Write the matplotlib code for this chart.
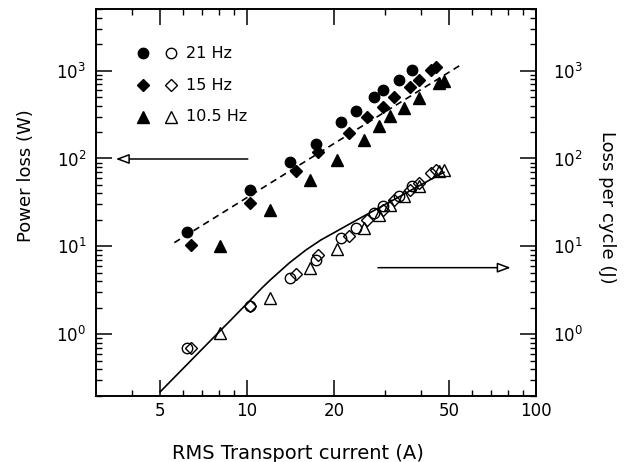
import matplotlib
matplotlib.use("Agg")
import matplotlib.pyplot as plt
from matplotlib.ticker import FixedLocator, NullFormatter, FixedFormatter, LogLocator

# ---- data ----
# RMS transport current (A)
i21 = [6.18, 10.27, 14.04, 17.33, 21.17, 23.8, 27.5, 29.5, 33.6, 37.3]
i15 = [6.38, 10.27, 14.76, 17.58, 22.5, 26.0, 29.6, 32.3, 36.6, 39.4, 43.4, 45.1]
i105 = [8.05, 11.98, 16.5, 20.4, 25.4, 28.7, 31.2, 35.0, 39.4, 46.2, 48.1]

# Power loss (W) - filled symbols, left axis
p21 = [14.7, 44.0, 91.7, 147, 262, 343, 499, 607, 789, 1008]
p15 = [10.3, 31.5, 71.8, 120, 197, 299, 384, 505, 657, 780, 1027, 1111]
p105 = [10.1, 26.0, 57.2, 94.9, 163, 232, 301, 376, 488, 724, 755]

# Loss per cycle (J) - open symbols, right axis
q21 = [0.70, 2.10, 4.37, 7.0, 12.5, 16.3, 23.8, 28.9, 37.6, 48.0]
q15 = [0.69, 2.10, 4.79, 8.0, 13.1, 19.9, 25.6, 33.7, 43.8, 52.0, 68.5, 74.1]
q105 = [1.02, 2.58, 5.6, 9.4, 16.0, 22.9, 29.7, 37.1, 48.2, 71.5, 74.5]

# dashed fit line (power loss)
fit_x = [5.6, 54.6]
fit_y = [11.0, 1150]

# solid theoretical curve (loss per cycle)
curve_x = [5.0, 6.0, 7.0, 8.0, 9.0, 10.0, 11.2, 12.0, 14.0, 16.0, 18.0, 20.0,
           23.0, 26.0, 30.0, 34.0, 38.0, 42.0, 46.0, 48.0]
curve_y = [0.220, 0.405, 0.679, 1.06, 1.57, 2.24, 3.30, 4.11, 6.47, 9.10, 11.8,
           14.3, 18.5, 23.1, 29.9, 37.4, 45.8, 54.8, 64.7, 69.7]

legend_labels = ["21 Hz", "15 Hz", "10.5 Hz"]

xticks = [5, 10, 20, 50, 100]
xticklabels = ["5", "10", "20", "50", "100"]
xminor = [4, 6, 7, 8, 9, 30, 40, 60, 70, 80, 90]
yticks = [1, 10, 100, 1000]
yticklabels = [r"$10^0$", r"$10^1$", r"$10^2$", r"$10^3$"]

# ---- figure ----
plt.rcParams['font.family'] = ['DejaVu Sans']
plt.rcParams['mathtext.fontset'] = 'dejavusans'

fig = plt.figure(figsize=(6.26, 4.62), dpi=100)
fig.patch.set_facecolor('white')
ax = fig.add_axes([0.1534, 0.1439, 0.7028, 0.836])
ax2 = ax.twinx()

for a in (ax, ax2):
    a.set_xscale('log')
    a.set_yscale('log')
    a.set_xlim(3, 100)
    a.set_ylim(0.2, 5000)
    for s in a.spines.values():
        s.set_linewidth(1.2)

ax.xaxis.set_major_locator(FixedLocator(xticks))
ax.xaxis.set_major_formatter(FixedFormatter(xticklabels))
ax.xaxis.set_minor_locator(FixedLocator(xminor))
ax.xaxis.set_minor_formatter(NullFormatter())

for a in (ax, ax2):
    a.yaxis.set_major_locator(FixedLocator(yticks))
    a.yaxis.set_major_formatter(FixedFormatter(yticklabels))
    a.yaxis.set_minor_locator(LogLocator(base=10, subs=range(2, 10), numticks=20))
    a.yaxis.set_minor_formatter(NullFormatter())

ax.tick_params(axis='x', which='both', direction='in', top=True, bottom=True,
               labelsize=12, pad=5)
ax.tick_params(axis='y', which='both', direction='in', left=True, right=False,
               labelsize=12, pad=7)
ax2.tick_params(axis='y', which='both', direction='in', left=False, right=True,
                labelsize=12, pad=12)
for a in (ax, ax2):
    a.tick_params(which='major', length=11.5, width=1.1)
    a.tick_params(which='minor', length=4.2, width=1.0)

# filled symbols: power loss
ms = dict(linestyle='none', color='black')
ax.plot(i21, p21, marker='o', markersize=7.5, **ms)
ax.plot(i15, p15, marker='D', markersize=6.2, **ms)
ax.plot(i105, p105, marker='^', markersize=8.5, **ms)
ax.plot(fit_x, fit_y, color='black', lw=1.2, linestyle=(0, (4, 2.8)))

# open symbols: loss per cycle
mo = dict(linestyle='none', markerfacecolor='none', markeredgecolor='black',
          markeredgewidth=1.0)
ax2.plot(i21, q21, marker='o', markersize=7.5, **mo)
ax2.plot(i15, q15, marker='D', markersize=6.2, **mo)
ax2.plot(i105, q105, marker='^', markersize=8.5, **mo)
ax2.plot(curve_x, curve_y, color='black', lw=1.2)

# legend drawn manually
rows_y = [0.8865, 0.8036, 0.7215]
mk = ['o', 'D', '^']
msz = [7.5, 6.2, 8.5]
for yy, m, s, lab in zip(rows_y, mk, msz, legend_labels):
    ax.plot([0.106], [yy], marker=m, markersize=s, color='black',
            transform=ax.transAxes, linestyle='none', clip_on=False)
    ax.plot([0.170], [yy], marker=m, markersize=s, markerfacecolor='none',
            markeredgecolor='black', markeredgewidth=1.0,
            transform=ax.transAxes, linestyle='none', clip_on=False)
    ax.text(0.205, yy, lab, transform=ax.transAxes, fontsize=11.5,
            va='center', ha='left')

# arrows
arrow_kw = dict(arrowstyle='-|>,head_length=0.8,head_width=0.3',
                fc='white', ec='black', lw=1.1, shrinkA=0, shrinkB=0,
                mutation_scale=10)
ax.annotate('', xy=(0.045, 0.6124), xytext=(0.345, 0.6124),
            xycoords='axes fraction', textcoords='axes fraction',
            arrowprops=arrow_kw)
ax.annotate('', xy=(0.9425, 0.3310), xytext=(0.6409, 0.3310),
            xycoords='axes fraction', textcoords='axes fraction',
            arrowprops=arrow_kw)

# axis labels
ax.set_xlabel("RMS Transport current (A)", fontsize=14)
ax.xaxis.set_label_coords(0.458, -0.125)
ax.xaxis.label.set_va('top')
ax.set_ylabel("Power loss (W)", fontsize=13)
ax.yaxis.set_label_coords(-0.159, 0.57)
ax.yaxis.label.set_va('center')
ax2.set_ylabel("Loss per cycle (J)", fontsize=13, rotation=-90)
ax2.yaxis.set_label_coords(1.161, 0.488)
ax2.yaxis.label.set_va('center')

fig.savefig("out.png", dpi=100, facecolor='white')
